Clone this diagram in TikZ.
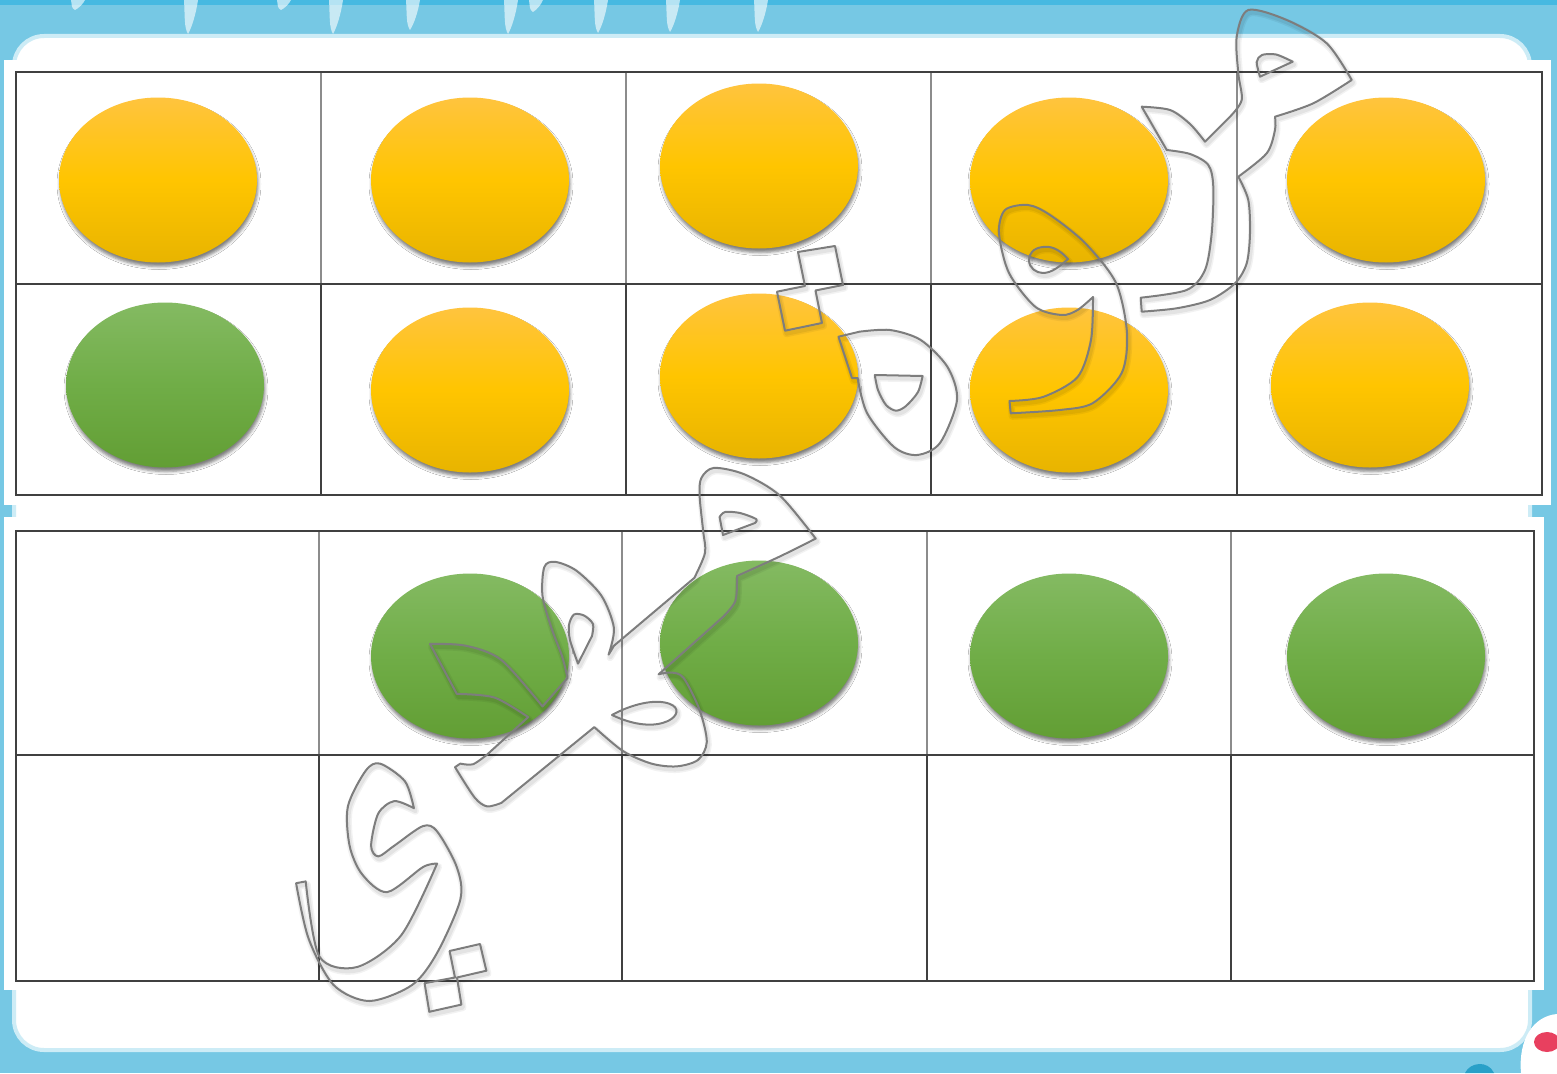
\documentclass[tikz,border=0pt]{standalone}
\usetikzlibrary{shapes.geometric,shadows.blur}
\definecolor{bgblue}{RGB}{118,200,228}
\definecolor{topblue}{RGB}{70,185,225}
\definecolor{panelEdge}{RGB}{205,236,246}
\definecolor{tealblob}{RGB}{40,160,200}
\definecolor{redblob}{RGB}{232,64,95}
\definecolor{yTop}{RGB}{255,196,62}
\definecolor{yMid}{RGB}{255,197,0}
\definecolor{yBot}{RGB}{232,180,0}
\definecolor{gTop}{RGB}{132,186,98}
\definecolor{gMid}{RGB}{112,173,71}
\definecolor{gBot}{RGB}{98,158,52}
\definecolor{wmgray}{RGB}{125,125,125}
\tikzset{
  counterdisc/.style={ellipse, minimum width=198pt, minimum height=165pt, inner sep=0pt,
    blur shadow={shadow xshift=1pt, shadow yshift=-4pt, shadow blur radius=3pt, shadow opacity=50}},
  yel/.style={counterdisc, top color=yTop, bottom color=yBot, middle color=yMid},
  grn/.style={counterdisc, top color=gTop, bottom color=gBot, middle color=gMid},
  gridline/.style={draw=black!75, line width=1.5pt},
  gridlight/.style={draw=black!45, line width=1.2pt},
  wmline/.style={color=wmgray, line width=2pt, line join=round},
  wmshadowA/.style={color=black, opacity=0.05, line width=7pt, line join=round},
  wmshadowB/.style={color=black, opacity=0.06, line width=4pt, line join=round},
  watermark/.pic={
    % upper right shape
    \draw (1141.7,106.7) -- plot[smooth] coordinates {(1141.7,106.7)(1170,110)(1190,124)(1205,141.7)} -- (1230,116.7)
      -- plot[smooth] coordinates {(1230,116.7)(1241.7,100)(1238.3,73.3)(1236.7,36.7)(1248.3,10)(1286.7,20)(1326.7,43.3)(1351.7,80)}
      -- plot[smooth] coordinates {(1351.7,80)(1313.3,103.3)(1275,116.7)}
      -- plot[smooth] coordinates {(1275,116.7)(1275,130)(1266.7,153.3)(1238.3,176.7)}
      -- plot[smooth] coordinates {(1238.3,176.7)(1248.3,200)(1250,233.3)(1246.7,263.3)(1235,283.3)(1210,300)(1176.7,308.3)(1141.7,311.7)}
      -- (1140.7,297.7)
      -- plot[smooth] coordinates {(1140.7,297.7)(1186.7,290)(1205,270)(1211.7,233.3)(1213.3,186.7)(1208.3,165)(1190,154)(1166.7,150)} -- cycle;
    \draw (1260,76.7) -- plot[smooth] coordinates {(1260,76.7)(1256.7,62)(1262,55)(1276,54.5)(1292.7,61.7)} -- cycle;
    % waw
    \draw (1009.5,401) -- (1010.7,413.3)
      -- plot[smooth] coordinates {(1010.7,413.3)(1060,410)(1093,403)(1121.7,373)(1127,333)(1116,283)(1085,243)(1050,215)(1028,205)(1005,210)(999,233)(1009,273)(1035.5,307)(1062,315)(1077.6,310)(1093,297)}
      -- plot[smooth] coordinates {(1093,297)(1091,340)(1077.6,377)(1043,397)(1009.5,401)} -- cycle;
    \draw (1068,259) .. controls (1058,248) and (1050,246) .. (1043,247) .. controls (1033,248) and (1029,254) .. (1029,260)
      .. controls (1029,268) and (1036,273) .. (1043,273) .. controls (1052,273) and (1060,266) .. (1068,259) -- cycle;
    % ha
    \draw (838.5,336.7) -- (852,378) -- (857.6,378)
      -- plot[smooth] coordinates {(857.6,378)(867,413)(894,447)(917,455)(940,443)(957,400)(947.5,367)(920.7,340)(890,330)(859.5,331.7)} -- cycle;
    \draw (874.8,375) -- (922.6,376) -- plot[smooth] coordinates {(922.6,376)(918,392)(906,406)(896,410.7)(886,405)(878,390)(874.8,375)} -- cycle;
    % squares (middle)
    \draw (798,252) -- (835,246) -- (843,285) -- (815.5,290.5) -- (822,323) -- (785,330.7) -- (777,291.7) -- (805,286) -- cycle;
    % big central shape
    \draw (608.6,654.6) -- (614,645.7) -- (694.3,577.9)
      -- plot[smooth] coordinates {(694.3,577.9)(705,552.9)(703.2,531.4)(699.6,495.7)(701.4,477.9)(713.9,467.9)(744.3,474.3)(780,495.7)(815.7,538.6)}
      -- plot[smooth] coordinates {(815.7,538.6)(780,556.4)(737,576)}
      -- plot[smooth] coordinates {(737,576)(735.4,601)(722.9,617)}
      -- (658.6,674.3)
      -- plot[smooth] coordinates {(658.6,674.3)(671,672.5)(683.6,677.9)(699.6,710)(706.8,742)(697.9,760)(676.4,766.4)(651.4,763.6)(622.9,751)(594.3,727.1)}
      -- (501.4,802.9)
      -- plot[smooth] coordinates {(501.4,802.9)(487.1,806.4)(474.6,797.5)(455,767.1)}
      -- (460.4,763.6)
      -- plot[smooth] coordinates {(460.4,763.6)(472.9,764.3)(487.1,754.6)}
      -- (528.2,717.1)
      -- plot[smooth] coordinates {(528.2,717.1)(494.3,697.5)(456.8,693.9)}
      -- (430,643.9)
      -- plot[smooth] coordinates {(430,643.9)(465.7,645.7)(501.4,660)(542.5,706.4)}
      -- (567.5,677.9)
      -- plot[smooth] coordinates {(567.5,677.9)(562.1,656.4)(551.4,627.9)(542.5,595.7)(544.3,567.1)(555,561.8)(576.4,570.7)(601.4,595.7)(613.9,627.9)(608.6,654.6)} -- cycle;
    \draw (723,535) -- plot[smooth] coordinates {(719.6,517)(725,512)(740,513)(756,519)(755,523)} -- cycle;
    \draw (578,663.6) -- plot[smooth] coordinates {(578,663.6)(570,640)(569,625)(574,614.5)(584,615.5)(593,624)(592,636)} -- cycle;
    \draw (612,715) .. controls (630,705) and (655,698) .. (670,704) .. controls (680,708) and (678,716) .. (668,721)
      .. controls (655,727) and (635,726) .. (612,715) -- cycle;
    % ya
    \draw (296.1,883.2)
      -- plot[smooth] coordinates {(296.1,883.2)(308.6,938.6)(333.6,985)(369.3,1001)(412.1,985)(437.1,952.9)(460.4,899.3)(456.8,867.1)(437.1,831.4)(422.9,826.1)(394.3,845.7)(378.2,856.4)(371.1,845.7)(378.2,813.6)(394.3,801.1)(413.9,808.2)}
      -- plot[smooth] coordinates {(413.9,808.2)(405,781.4)(380,763.6)(365.7,770.7)(347.9,806.4)(349.6,845.7)(362.1,874.3)(387.1,892.1)(422.9,867.1)(437.1,863.6)}
      -- plot[smooth] coordinates {(437.1,863.6)(401.4,935)(356.8,967.1)(319.3,956.4)(305.7,881.4)} -- cycle;
    \draw (449.6,951) -- (480,944) -- (486.4,970.7) -- (457,977.5) -- (461.4,1004.6) -- (429.3,1011.8) -- (424.6,983.2) -- (455,977.5) -- cycle;
  }
}
\begin{document}
\begin{tikzpicture}[x=1pt,y=-1pt]
\useasboundingbox (0,0) rectangle (1557,1073);
% background frame
\fill[bgblue] (0,0) rectangle (1557,1073);
\fill[topblue] (0,0) rectangle (1557,5);
\foreach \d/\l in {77/10, 190/34, 283/10, 335/34, 412/30, 510/34, 535/12, 600/33, 672/32, 760/32}{
  \fill[white, opacity=0.6] ({\d-6},0) .. controls ({\d-5},{\l*0.5}) and ({\d-6},{\l*0.8}) .. ({\d-2},\l)
     .. controls ({\d+2},{\l*0.8}) and ({\d+6},{\l*0.4}) .. ({\d+8},0) -- cycle;
}
% white panel
\draw[draw=panelEdge, line width=4pt, fill=white, rounded corners=30pt] (14,36) rectangle (1530,1050);
% corner fragment bottom right
\fill[tealblob] (1465,1073) .. controls (1470,1062) and (1488,1060) .. (1494,1073) -- cycle;
\fill[white] (1557,1014) .. controls (1533,1016) and (1518,1040) .. (1521,1073) -- (1557,1073) -- cycle;
\fill[redblob] (1547,1042) ellipse [x radius=13, y radius=10];
% white sheets
\fill[white] (4,60) rectangle (1551,505);
\fill[white] (4,517) rectangle (1544,990);
% top grid
\draw[gridlight] (321,72) -- (321,284) (626,72) -- (626,284) (931,72) -- (931,284) (1237,72) -- (1237,284);
\draw[gridline] (321,284) -- (321,495) (626,284) -- (626,495) (931,284) -- (931,495) (1237,284) -- (1237,495);
\draw[gridline] (16,284) -- (1542,284);
\draw[gridline] (16,72) rectangle (1542,495);
% bottom grid
\draw[gridlight] (319,531) -- (319,755) (622,531) -- (622,755) (927,531) -- (927,755) (1231,531) -- (1231,755);
\draw[gridline] (319,755) -- (319,981) (622,755) -- (622,981) (927,755) -- (927,981) (1231,755) -- (1231,981);
\draw[gridline] (16,755) -- (1534,755);
\draw[gridline] (16,531) rectangle (1534,981);
% counters, top frame
\node[yel] (a1) at (158,180) {};
\node[yel] (a2) at (470,180) {};
\node[yel] (a3) at (759,166) {};
\node[yel] (a4) at (1069,180) {};
\node[yel] (a5) at (1386,180) {};
\node[grn] (b1) at (165,385) {};
\node[yel] (b2) at (470,390) {};
\node[yel] (b3) at (759,376) {};
\node[yel] (b4) at (1069,390) {};
\node[yel] (b5) at (1370,385) {};
% counters, bottom frame
\node[grn] (c2) at (470,656) {};
\node[grn] (c3) at (759,643) {};
\node[grn] (c4) at (1069,656) {};
\node[grn] (c5) at (1386,656) {};
% outlined calligraphy watermark
\pic[wmshadowA] at (1.5,3) {watermark};
\pic[wmshadowB] at (1.5,3) {watermark};
\pic[wmline] at (0,0) {watermark};
\end{tikzpicture}
\end{document}
